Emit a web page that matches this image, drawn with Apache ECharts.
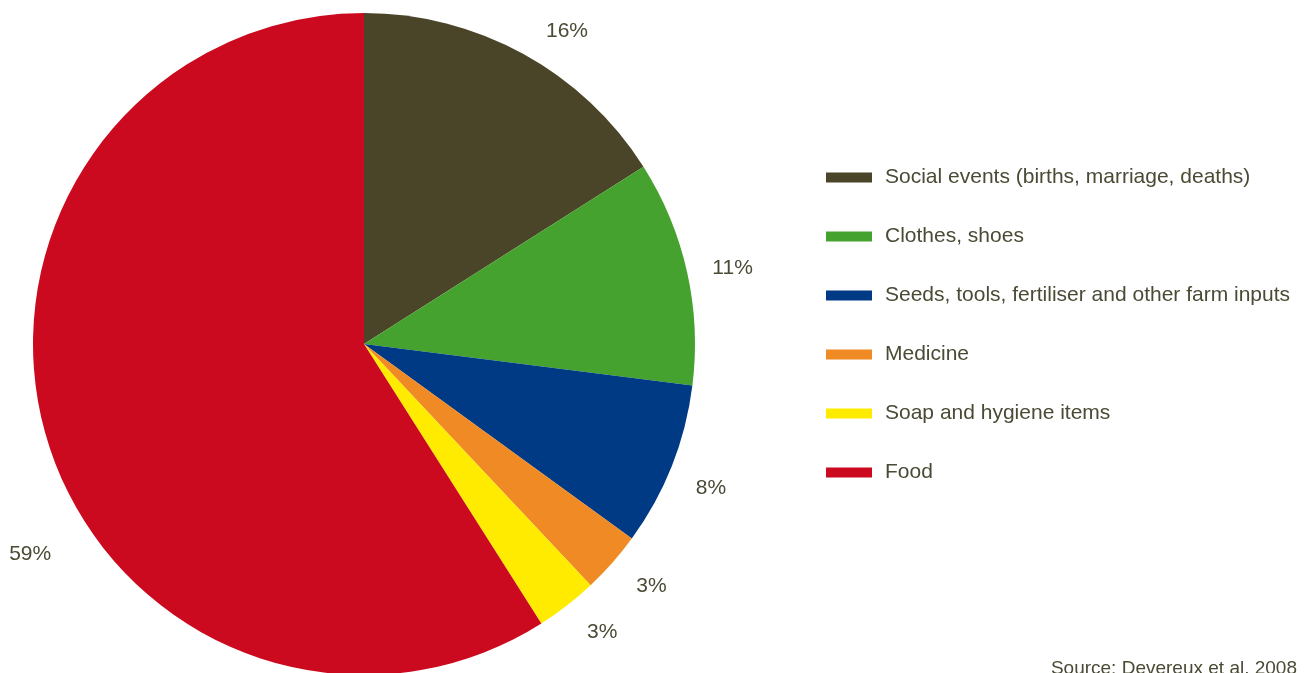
<!DOCTYPE html>
<html>
<head>
<meta charset="utf-8">
<script src="https://cdn.jsdelivr.net/npm/echarts@6/dist/echarts.min.js"></script>
<style>html,body{margin:0;padding:0;background:#fff;}#c{width:1309px;height:673px;}</style>
</head>
<body>
<div id="c"></div>
<script>
const categories = ['Social events (births, marriage, deaths)', 'Clothes, shoes', 'Seeds, tools, fertiliser and other farm inputs', 'Medicine', 'Soap and hygiene items', 'Food'];
const values = [16, 11, 8, 3, 3, 59];
const colors = ['#4a4428', '#46a22e', '#003984', '#f08a24', '#ffeb00', '#cc0a1f'];
const sourceText = 'Source: Devereux et al. 2008';

const textColor = '#4a4a35';
const chart = echarts.init(document.getElementById('c'));
chart.setOption({
  animation: false,
  color: colors,
  legend: {
    orient: 'vertical',
    left: 821,
    top: 162,
    icon: 'rect',
    itemWidth: 46,
    itemHeight: 10,
    itemGap: 38,
    textStyle: { color: textColor, fontSize: 21, fontFamily: 'Liberation Sans', lineHeight: 21, padding: [0, 0, 0, 8] },
    data: categories
  },
  graphic: [{
    type: 'text', right: 12, top: 659,
    style: { text: sourceText, fill: textColor, font: '19px "Liberation Sans"' }
  }],
  series: [{
    type: 'pie',
    center: [364, 344],
    radius: [0, 331],
    startAngle: 90,
    clockwise: true,
    silent: true,
    avoidLabelOverlap: false,
    label: {
      show: true,
      position: 'outside',
      formatter: '{d}%',
      color: textColor,
      fontSize: 21,
      fontFamily: 'Liberation Sans'
    },
    labelLine: { show: false, length: 28, length2: 0 },
    labelLayout: function (p) {
      if (p.dataIndex === 5) return { dx: -172, dy: 163 };
      if (p.dataIndex === 0) return { dx: 4, dy: 2 };
      if (p.dataIndex === 1) return { dx: -7, dy: 3 };
      if (p.dataIndex === 2) return { dx: -7, dy: 12 };
      return { dx: -2, dy: 5 };
    },
    data: categories.map((n, i) => ({
      name: n, value: values[i],
      label: i === 5 ? { position: 'inside' } : undefined
    }))
  }]
});
</script>
</body>
</html>
